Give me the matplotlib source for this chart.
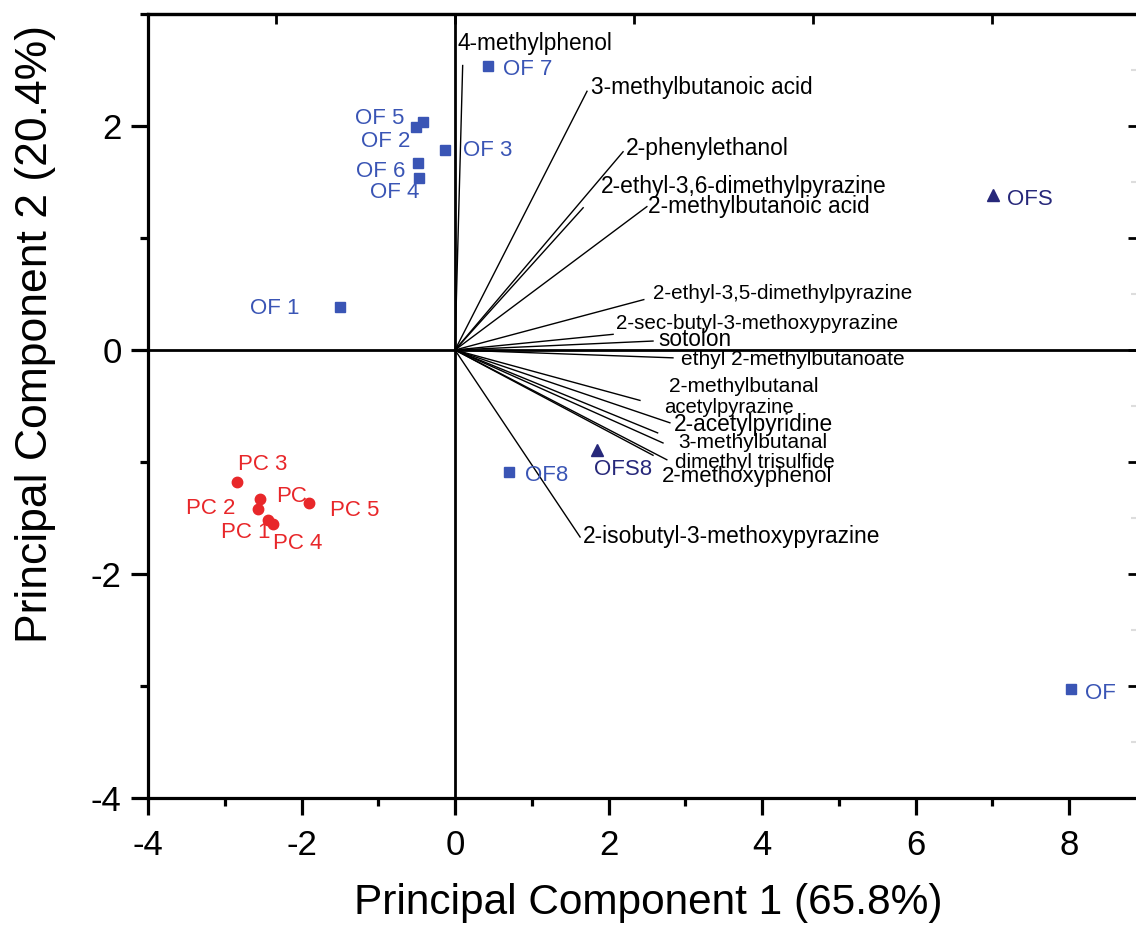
import matplotlib
matplotlib.use("Agg")
import matplotlib.pyplot as plt
from matplotlib.ticker import MultipleLocator, NullFormatter

plt.rcParams['font.family'] = ['Liberation Sans', 'DejaVu Sans']
plt.rcParams['axes.unicode_minus'] = False

# ---------------- data ----------------
of_names = ["OF 7", "OF 5", "OF 2", "OF 3", "OF 6", "OF 4", "OF 1", "OF8", "OF"]
of_pc1 = [0.43, -0.42, -0.51, -0.13, -0.48, -0.47, -1.50, 0.70, 8.03]
of_pc2 = [2.54, 2.04, 1.99, 1.79, 1.67, 1.54, 0.38, -1.09, -3.03]

ofs_names = ["OFS", "OFS8"]
ofs_pc1 = [7.01, 1.85]
ofs_pc2 = [1.38, -0.89]

pc_names = ["PC 3", "PC", "PC 2", "PC 1", "PC 4", "PC 5"]
pc_pc1 = [-2.84, -2.54, -2.57, -2.43, -2.37, -1.90]
pc_pc2 = [-1.18, -1.33, -1.42, -1.52, -1.55, -1.37]

compound_names = [
    "4-methylphenol", "3-methylbutanoic acid", "2-phenylethanol",
    "2-ethyl-3,6-dimethylpyrazine", "2-methylbutanoic acid",
    "2-ethyl-3,5-dimethylpyrazine", "2-sec-butyl-3-methoxypyrazine",
    "sotolon", "ethyl 2-methylbutanoate", "2-methylbutanal",
    "acetylpyrazine", "2-acetylpyridine", "3-methylbutanal",
    "dimethyl trisulfide", "2-methoxyphenol", "2-isobutyl-3-methoxypyrazine",
]
loading_pc1 = [0.10, 1.72, 2.19, 1.67, 2.50, 2.46, 2.06, 2.58, 2.84, 2.41,
               2.80, 2.64, 2.71, 2.58, 2.76, 1.63]
loading_pc2 = [2.54, 2.31, 1.77, 1.27, 1.28, 0.45, 0.14, 0.08, -0.07, -0.45,
               -0.65, -0.74, -0.83, -0.94, -0.98, -1.67]

x_label = "Principal Component 1 (65.8%)"
y_label = "Principal Component 2 (20.4%)"

# ---------------- layout / style ----------------
W, H = 1136, 925
C_OF = "#3a55b5"
C_OFS = "#27287a"
C_PC = "#e8272a"

# label offsets in pixels (dx, dy, ha)
of_off = [(15, -4, 'left'), (-18, 3, 'right'), (-5, -14, 'right'), (18, -1, 'left'),
          (-13, -9, 'right'), (0, -15, 'right'), (-40, -1, 'right'), (16, -3, 'left'),
          (14, -4, 'left')]
ofs_off = [(14, -4, 'left'), (-3, -20, 'left')]
pc_off = [(1, 18, 'left'), (16, 2, 'left'), (-22, 1, 'right'), (2, -12, 'right'),
          (0, -20, 'left'), (21, -7, 'left')]
cmp_off = [(-5, 22), (4, 4), (3, 3), (18, 21), (1, 0), (9, 6), (3, 11), (5, 2),
           (8, -2), (29, 14), (-6, 15), (16, 8), (15, 0), (22, -7), (-5, -17), (3, 1)]
cmp_size = [16.3, 16.4, 16.5, 16.4, 16.4, 14.9, 14.9, 16.3, 15.0, 15.1,
            14.6, 16.4, 15.0, 14.9, 16.0, 16.4]

fig = plt.figure(figsize=(W / 100, H / 100), dpi=100)
ax = fig.add_axes([148 / W, (H - 798) / H, (1138 - 148) / W, (798 - 14) / H])
ax.set_xlim(-4, -4 + (1138 - 148) / 76.75)
ax.set_ylim(-4, 3)

for s in ['left', 'bottom', 'top']:
    ax.spines[s].set_linewidth(2.3)
ax.spines['right'].set_visible(False)

ax.axhline(0, color='black', lw=2.0, zorder=1)
ax.axvline(0, color='black', lw=2.0, zorder=1)

# loading vectors
for name, lx, ly, (dx, dy), fs in zip(compound_names, loading_pc1, loading_pc2,
                                      cmp_off, cmp_size):
    ax.plot([0, lx], [0, ly], color='black', lw=1.0, zorder=2)
    ax.annotate(name, (lx, ly), xytext=(dx, dy), textcoords='offset pixels',
                ha='left', va='center', fontsize=fs, color='black')

# samples
ax.plot(of_pc1, of_pc2, ls='none', marker='s', ms=6.5, color=C_OF, zorder=3)
ax.plot(ofs_pc1, ofs_pc2, ls='none', marker='^', ms=8, color=C_OFS, zorder=3)
ax.plot(pc_pc1, pc_pc2, ls='none', marker='o', ms=7.5, color=C_PC, zorder=3)

for names, xs, ys, offs, col in [(of_names, of_pc1, of_pc2, of_off, C_OF),
                                 (ofs_names, ofs_pc1, ofs_pc2, ofs_off, C_OFS),
                                 (pc_names, pc_pc1, pc_pc2, pc_off, C_PC)]:
    for n, x, y, (dx, dy, ha) in zip(names, xs, ys, offs):
        ax.annotate(n, (x, y), xytext=(dx, dy), textcoords='offset pixels',
                    ha=ha, va='center', fontsize=16, color=col)

# main ticks
ax.xaxis.set_major_locator(MultipleLocator(2))
ax.xaxis.set_minor_locator(MultipleLocator(1))
ax.yaxis.set_major_locator(MultipleLocator(2))
ax.yaxis.set_minor_locator(MultipleLocator(1))
ax.tick_params(which='major', direction='out', length=12, width=2.3,
               labelsize=25, top=False, right=False)
ax.tick_params(axis='x', which='major', pad=10)
ax.tick_params(axis='y', which='major', pad=7)
ax.tick_params(which='minor', direction='out', length=6, width=2.3,
               top=False, right=False)

# top & right auxiliary axes (loading scale)
LOAD_SCALE = 179 / 76.75
sec_x = ax.secondary_xaxis('top', functions=(lambda v: v / LOAD_SCALE, lambda v: v * LOAD_SCALE))
sec_x.xaxis.set_major_locator(MultipleLocator(1))
sec_x.xaxis.set_major_formatter(NullFormatter())
sec_x.tick_params(direction='in', length=7, width=2.0)
sec_x.spines['top'].set_linewidth(2.3)

sec_y = ax.secondary_yaxis('right')
sec_y.yaxis.set_major_locator(MultipleLocator(1))
sec_y.yaxis.set_minor_locator(MultipleLocator(0.5))
sec_y.yaxis.set_major_formatter(NullFormatter())
sec_y.tick_params(which='major', direction='in', length=7, width=2.0)
sec_y.tick_params(which='minor', direction='in', length=5, width=1.5, color='#dddddd')

ax.set_xlabel(x_label, fontsize=30.5)
ax.set_ylabel(y_label, fontsize=32)
ax.xaxis.set_label_coords(0.505, -0.109)
ax.yaxis.set_label_coords(-0.0929, 0.592)

fig.savefig("out.png", dpi=100)
